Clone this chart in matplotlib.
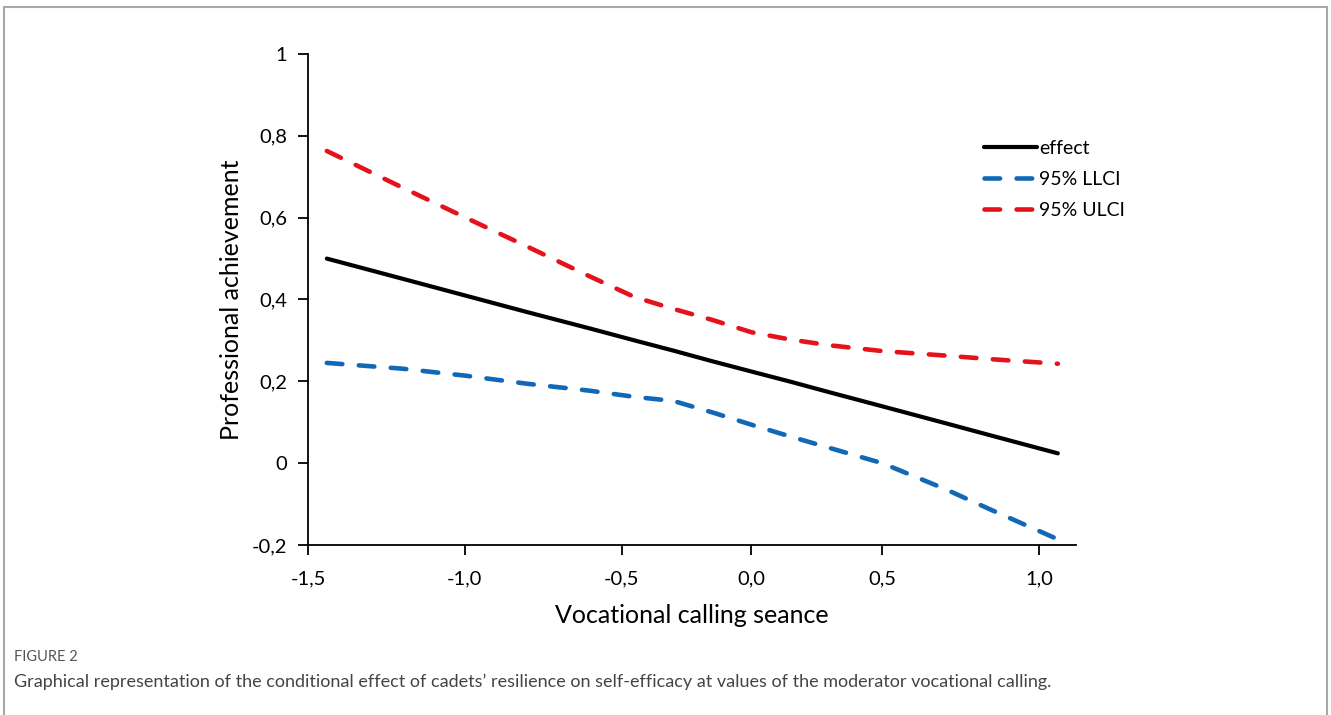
import matplotlib
matplotlib.use("Agg")
import matplotlib.pyplot as plt
import numpy as np
from matplotlib.patches import Rectangle

# --- data ---
calling = [-1.44, -1.2, -1.0, -0.8, -0.6, -0.45, -0.3, -0.15, 0.0,
           0.15, 0.3, 0.5, 0.7, 0.85, 1.06]
effect = [0.500, 0.451, 0.410, 0.369, 0.329, 0.300, 0.275, 0.249, 0.224,
          0.199, 0.173, 0.139, 0.098, 0.067, 0.024]
llci = [0.245, 0.231, 0.214, 0.194, 0.177, 0.162, 0.152, 0.124, 0.094,
        0.065, 0.037, 0.000, -0.063, -0.115, -0.186]
ulci = [0.763, 0.674, 0.601, 0.529, 0.456, 0.406, 0.377, 0.350, 0.320,
        0.302, 0.288, 0.274, 0.263, 0.254, 0.243]

x_ticks = [-1.5, -1.0, -0.5, 0.0, 0.5, 1.0]
y_ticks = [-0.2, 0.0, 0.2, 0.4, 0.6, 0.8, 1.0]

# the original x axis is not evenly spaced -> piecewise linear scale
scale_vals = [-3.0, -1.5, -1.0, -0.5, 0.0, 0.5, 1.0, 3.0]
scale_pos = [-471, 0, 157, 314, 444, 575, 732, 1360]


def fwd(x):
    return np.interp(x, scale_vals, scale_pos)


def inv(p):
    return np.interp(p, scale_pos, scale_vals)


def ylab(v):
    if abs(v - round(v)) < 1e-9:
        return str(int(round(v)))
    return f"{v:.1f}".replace(".", ",")


def xlab(v):
    return f"{v:.1f}".replace(".", ",")


plt.rcParams['font.family'] = ['Lato', 'DejaVu Sans']

fig = plt.figure(figsize=(13.31, 7.15), dpi=100)
W, H = 1331, 715

# grey frame around the figure panel
fig.patches.append(Rectangle((4 / W, -0.05), 1323 / W, 1.05 - 7 / H,
                             transform=fig.transFigure, fill=False,
                             edgecolor='#a8a8a8', linewidth=1.5))

ax = fig.add_axes([308 / W, 1 - 545 / H, 768 / W, 491 / H])
ax.set_xscale('function', functions=(fwd, inv))

red = '#e5121b'
blue = '#1068b6'
ax.plot(calling, effect, color='black', linewidth=3.0,
        solid_capstyle='round', label='effect')
ax.plot(calling, llci, color=blue, linewidth=3.3, dashes=(3.4, 3.6),
        dash_capstyle='round', label='95% LLCI')
ax.plot(calling, ulci, color=red, linewidth=3.3, dashes=(3.4, 3.6),
        dash_capstyle='round', label='95% ULCI')

ax.set_xlim(-1.5, 1.118)
ax.set_ylim(-0.2, 1.0)
ax.set_xticks(x_ticks)
ax.set_xticklabels([xlab(v) for v in x_ticks])
ax.set_yticks(y_ticks)
ax.set_yticklabels([ylab(v) for v in y_ticks])
ax.minorticks_off()

for s in ['top', 'right']:
    ax.spines[s].set_visible(False)
for s in ['left', 'bottom']:
    ax.spines[s].set_linewidth(1.3)
ax.tick_params(axis='both', direction='out', length=7, width=1.3,
               labelsize=14.5, colors='black')
ax.tick_params(axis='x', pad=11)
ax.tick_params(axis='y', pad=8)

ax.set_xlabel('Vocational calling seance', fontsize=18, labelpad=12)
ax.set_ylabel('Professional achievement', fontsize=18, labelpad=6)

ax.legend(loc='upper left', bbox_to_anchor=(0.868, 0.845), frameon=False,
          fontsize=14, handlelength=2.7, handletextpad=0.1,
          labelspacing=0.72, borderpad=0)

fig.text(14 / W, 1 - 657 / H, 'FIGURE 2', fontsize=10.5, color='#555555',
         va='center', ha='left')
fig.text(14 / W, 1 - 682 / H,
         "Graphical representation of the conditional effect of cadets\u2019 "
         "resilience on self-efficacy at values of the moderator vocational calling.",
         fontsize=13, color='#444444', va='center', ha='left')

fig.savefig('out.png', dpi=100)
